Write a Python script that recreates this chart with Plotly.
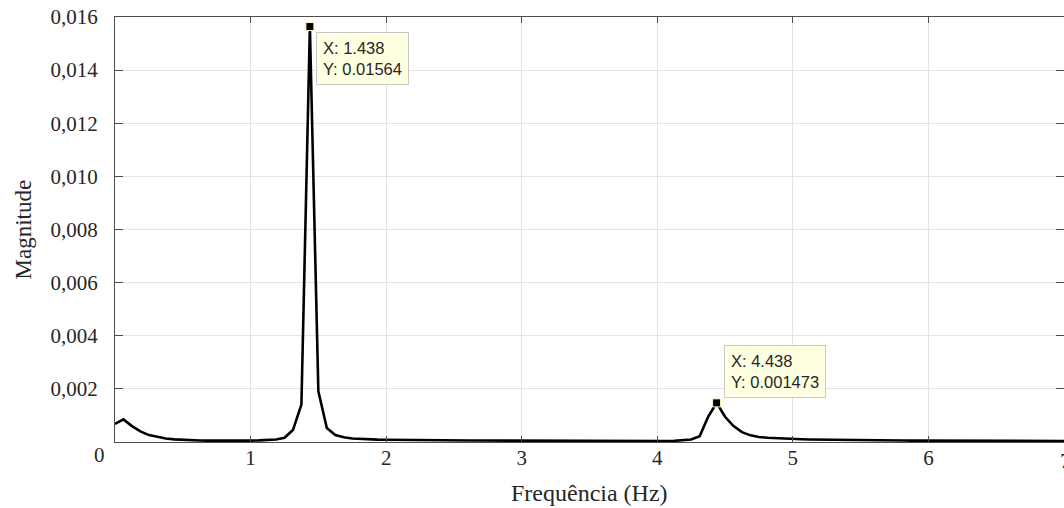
import plotly.graph_objects as go

# Frequency bins (Hz)
freq = [
    0.0, 0.0625, 0.125, 0.1875, 0.25, 0.3125, 0.375, 0.4375,
    0.5, 0.5625, 0.625, 0.6875, 0.75, 0.8125, 0.875, 0.9375,
    1.0, 1.0625, 1.125, 1.1875, 1.25, 1.3125, 1.375, 1.4375,
    1.5, 1.5625, 1.625, 1.6875, 1.75, 1.8125, 1.875, 1.9375,
    2.0, 2.0625, 2.125, 2.1875, 2.25, 2.3125, 2.375, 2.4375,
    2.5, 2.5625, 2.625, 2.6875, 2.75, 2.8125, 2.875, 2.9375,
    3.0, 3.0625, 3.125, 3.1875, 3.25, 3.3125, 3.375, 3.4375,
    3.5, 3.5625, 3.625, 3.6875, 3.75, 3.8125, 3.875, 3.9375,
    4.0, 4.0625, 4.125, 4.1875, 4.25, 4.3125, 4.375, 4.4375,
    4.5, 4.5625, 4.625, 4.6875, 4.75, 4.8125, 4.875, 4.9375,
    5.0, 5.0625, 5.125, 5.1875, 5.25, 5.3125, 5.375, 5.4375,
    5.5, 5.5625, 5.625, 5.6875, 5.75, 5.8125, 5.875, 5.9375,
    6.0, 6.0625, 6.125, 6.1875, 6.25, 6.3125, 6.375, 6.4375,
    6.5, 6.5625, 6.625, 6.6875, 6.75, 6.8125, 6.875, 6.9375,
    7.0,
]

# Spectrum magnitude at each bin
mag = [
    0.00068, 0.00085, 0.00060, 0.00040, 0.00026, 0.00019, 0.00013, 0.00010,
    0.00008, 0.000068, 0.000058, 0.000052, 0.000048, 0.000046, 0.000046, 0.000048,
    0.000052, 0.00006, 0.000072, 0.000095, 0.00016, 0.00045, 0.00141, 0.01564,
    0.00191, 0.00053, 0.00026, 0.00018, 0.00013, 0.00011, 0.0001, 0.00009,
    0.000085, 0.00008, 0.000077, 0.000074, 0.000071, 0.000068, 0.000066, 0.000064,
    0.000062, 0.00006, 0.000058, 0.000056, 0.000054, 0.000052, 0.00005, 0.000048,
    0.000047, 0.000046, 0.000045, 0.000044, 0.000042, 0.00004, 0.000038, 0.000036,
    0.000035, 0.000034, 0.000033, 0.000032, 0.00003, 0.000029, 0.000028, 0.000028,
    0.00003, 0.000034, 0.000042, 0.000058, 0.000095, 0.00022, 0.00095, 0.001473,
    0.00095, 0.0006, 0.00037, 0.00025, 0.00019, 0.00016, 0.00014, 0.000125,
    0.000112, 0.000102, 0.000094, 0.000088, 0.000082, 0.000077, 0.000073, 0.000069,
    0.000066, 0.000063, 0.00006, 0.000058, 0.000056, 0.000054, 0.000052, 0.00005,
    0.000049, 0.000048, 0.000047, 0.000046, 0.000045, 0.000044, 0.000043, 0.000042,
    0.000041, 0.00004, 0.00004, 0.000039, 0.000039, 0.000038, 0.000038, 0.000037,
    0.000037,
]

# Data tips (peaks)
tip_x = [1.4375, 4.4375]
tip_y = [0.01564, 0.001473]

x_ticks = [1, 2, 3, 4, 5, 6, 7]
x_ticktext = ["1", "2", "3", "4", "5", "6", "7"]
y_ticks = [0.002, 0.004, 0.006, 0.008, 0.010, 0.012, 0.014, 0.016]
y_ticktext = ["0,002", "0,004", "0,006", "0,008", "0,010", "0,012", "0,014", "0,016"]

SERIF = "Liberation Serif"
SANS = "Liberation Sans"
TXT = "#262626"
AX = "#4d4d4d"
GRID = "#e3e3e3"

fig = go.Figure()

fig.add_trace(go.Scatter(
    x=freq, y=mag, mode="lines",
    line=dict(color="black", width=2.6),
    showlegend=False, hoverinfo="skip",
))

fig.add_trace(go.Scatter(
    x=tip_x, y=tip_y, mode="markers",
    marker=dict(symbol="square", size=8, color="black",
                line=dict(color="#fff8c8", width=1)),
    showlegend=False, hoverinfo="skip",
))

# empty trace so the top/right mirror axes are drawn
fig.add_trace(go.Scatter(x=[None], y=[None], xaxis="x2", yaxis="y2",
                         showlegend=False, hoverinfo="skip"))

tick_font = dict(family=SERIF, size=21, color=TXT)

fig.update_layout(
    width=1064, height=508,
    margin=dict(l=115, r=0, t=17, b=66),
    paper_bgcolor="white", plot_bgcolor="white",
    xaxis=dict(
        range=[0, 7], tickvals=x_ticks, ticktext=x_ticktext,
        ticks="inside", ticklen=6, tickcolor=AX, tickwidth=1,
        showline=True, linecolor=AX, linewidth=1,
        showgrid=True, gridcolor=GRID, gridwidth=1, zeroline=False,
        tickfont=tick_font, ticklabelstandoff=-3, automargin=False,
    ),
    yaxis=dict(
        range=[0, 0.016], tickvals=y_ticks, ticktext=y_ticktext,
        ticks="inside", ticklen=8, tickcolor=AX, tickwidth=1,
        showline=True, linecolor=AX, linewidth=1,
        showgrid=True, gridcolor=GRID, gridwidth=1, zeroline=False,
        tickfont=tick_font, ticklabelstandoff=12, automargin=False,
    ),
    xaxis2=dict(
        overlaying="x", side="top", anchor="y", range=[0, 7], tickvals=x_ticks,
        ticks="inside", ticklen=6, tickcolor=AX, showticklabels=False,
        showline=True, linecolor=AX, linewidth=1, showgrid=False, zeroline=False,
    ),
    yaxis2=dict(
        overlaying="y", side="right", anchor="x", range=[0, 0.016], tickvals=y_ticks,
        ticks="inside", ticklen=8, tickcolor=AX, showticklabels=False,
        showline=False, showgrid=False, zeroline=False,
    ),
)

annotations = [
    # shared origin label
    dict(x=0, y=0, xref="x", yref="y", text="0", showarrow=False,
         xanchor="center", yanchor="middle", xshift=-16, yshift=-13,
         font=tick_font),
    # last x tick label, running off the right edge
    dict(x=7, y=0, xref="x", yref="y", text="7", showarrow=False,
         xanchor="center", yanchor="middle", xshift=1, yshift=-19,
         font=tick_font),
    dict(x=0.5, y=0, xref="paper", yref="paper", text="Frequência (Hz)",
         showarrow=False, xanchor="center", yanchor="middle", yshift=-51,
         font=dict(family=SERIF, size=24, color=TXT)),
    dict(x=0, y=0.5, xref="paper", yref="paper", text="Magnitude",
         showarrow=False, xanchor="center", yanchor="middle", xshift=-92,
         textangle=-90, font=dict(family=SERIF, size=23, color=TXT)),
]

# data-tip boxes
tip_place = [("top", -5, 6), ("bottom", 5, 7)]
for (tx, ty), (ya, ys, xs) in zip(zip(tip_x, tip_y), tip_place):
    annotations.append(dict(
        x=tx, y=ty, xref="x", yref="y",
        text=f"X: {tx:.4g}<br>Y: {ty:.4g}", showarrow=False,
        xanchor="left", yanchor=ya, xshift=xs, yshift=ys, align="left",
        bgcolor="#ffffe1", bordercolor="#c8c8c8", borderwidth=1, borderpad=6,
        font=dict(family=SANS, size=16.5, color=TXT),
    ))

fig.update_layout(annotations=annotations)

fig.write_html("out.html")
